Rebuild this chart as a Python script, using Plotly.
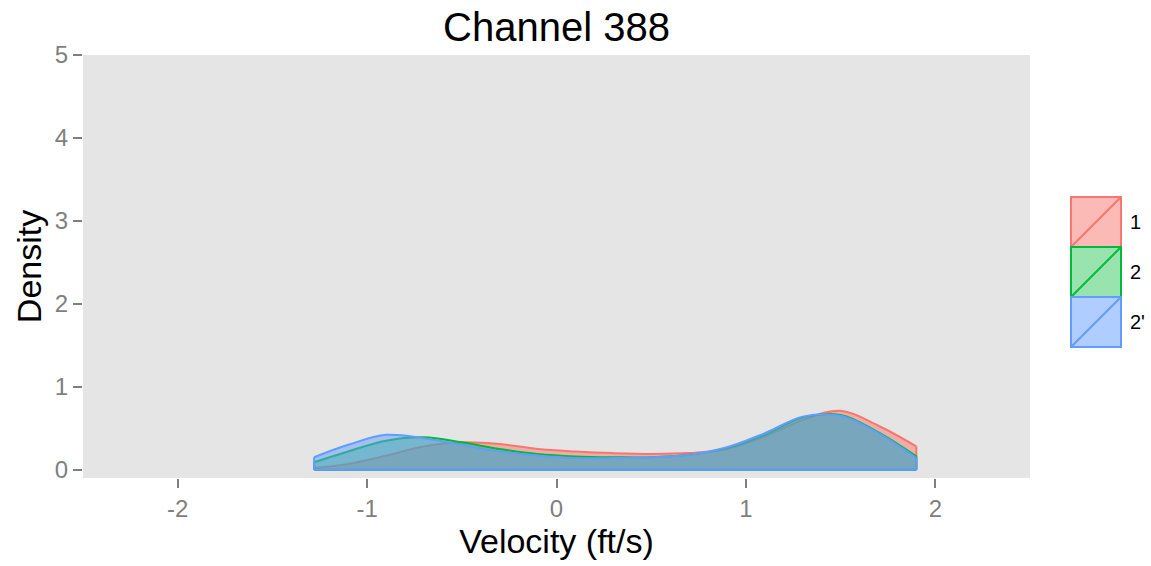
import plotly.graph_objects as go

groups = ["1", "2", "2'"]
colors = ["#F8766D", "#00BA38", "#619CFF"]
fills = ["rgba(248,118,109,0.5)", "rgba(0,186,56,0.4)", "rgba(97,156,255,0.5)"]

velocity = [-1.28, -1.1, -0.9, -0.7, -0.5, -0.3, -0.1, 0.1, 0.3, 0.5, 0.7, 0.9, 1.1, 1.3, 1.5, 1.7, 1.9]
density_1 = [0.02, 0.07, 0.17, 0.28, 0.33, 0.31, 0.25, 0.22, 0.20, 0.19, 0.20, 0.25, 0.40, 0.60, 0.71, 0.53, 0.28]
density_2 = [0.09, 0.22, 0.35, 0.39, 0.33, 0.25, 0.19, 0.16, 0.15, 0.15, 0.18, 0.26, 0.42, 0.63, 0.66, 0.45, 0.16]
density_2p = [0.15, 0.30, 0.42, 0.38, 0.30, 0.22, 0.17, 0.14, 0.14, 0.15, 0.18, 0.27, 0.44, 0.64, 0.65, 0.44, 0.14]
series = [density_1, density_2, density_2p]

x_ticks = [-2, -1, 0, 1, 2]
x_tick_labels = ["-2", "-1", "0", "1", "2"]
y_ticks = [0, 1, 2, 3, 4, 5]

W, H = 1151, 566
L, R, T, B = 83, 1030, 55, 478

fig = go.Figure()
for g, c, f, ys in zip(groups, colors, fills, series):
    fig.add_trace(go.Scatter(x=velocity, y=ys, mode="lines", fill="tozeroy", fillcolor=f,
                             line=dict(color=c, width=2, shape="spline", smoothing=1.0),
                             showlegend=False, hoverinfo="skip"))
    x0, xn = velocity[0], velocity[-1]
    fig.add_trace(go.Scatter(x=[x0, x0, None, x0, xn, None, xn, xn],
                             y=[ys[0], 0, None, 0, 0, None, 0, ys[-1]],
                             mode="lines", line=dict(color=c, width=2),
                             showlegend=False, hoverinfo="skip"))

def px(x):
    return (x - L) / (R - L)

def py(y):
    return (B - y) / (B - T)

shapes = []
annotations = []
key_top = 197
for i, (g, c, f) in enumerate(zip(groups, colors, fills)):
    y1 = key_top + i * 50
    y2 = y1 + 50
    shapes.append(dict(type="rect", xref="paper", yref="paper",
                       x0=px(1071), x1=px(1121), y0=py(y2), y1=py(y1),
                       fillcolor=f, line=dict(color=c, width=2)))
    shapes.append(dict(type="line", xref="paper", yref="paper",
                       x0=px(1071), x1=px(1121), y0=py(y2), y1=py(y1),
                       line=dict(color=c, width=2)))
    annotations.append(dict(text=g, xref="paper", yref="paper", x=px(1128), y=py(y1 + 25),
                            xanchor="left", yanchor="middle", showarrow=False,
                            font=dict(size=20, color="black", family="Liberation Sans")))

fig.update_layout(
    width=W, height=H,
    margin=dict(l=L, r=W - R, t=T, b=H - B),
    paper_bgcolor="white", plot_bgcolor="#E5E5E5",
    font=dict(family="Liberation Sans"),
    title=dict(text="Channel 388", x=(L + R) / 2 / W, xanchor="center", y=1 - 27 / H, yanchor="middle",
               font=dict(size=40, color="black")),
    shapes=shapes, annotations=annotations, showlegend=False,
)
fig.update_xaxes(range=[-2.5, 2.5], tickvals=x_ticks, ticktext=x_tick_labels, showgrid=False, zeroline=False,
                 ticks="outside", ticklen=9, tickwidth=2, tickcolor="#7F7F7F",
                 tickfont=dict(size=24, color="#7F7F7F"),
                 title=dict(text="Velocity (ft/s)", font=dict(size=34, color="black"), standoff=5))
fig.update_yaxes(range=[-0.1, 5.0], tickvals=y_ticks, showgrid=False, zeroline=False,
                 ticks="outside", ticklen=9, tickwidth=2, tickcolor="#7F7F7F",
                 tickfont=dict(size=24, color="#7F7F7F"),
                 title=dict(text="Density", font=dict(size=34, color="black"), standoff=2))

fig.write_html("out.html", config={"displayModeBar": False},
               post_script="document.body.style.margin='0';")
